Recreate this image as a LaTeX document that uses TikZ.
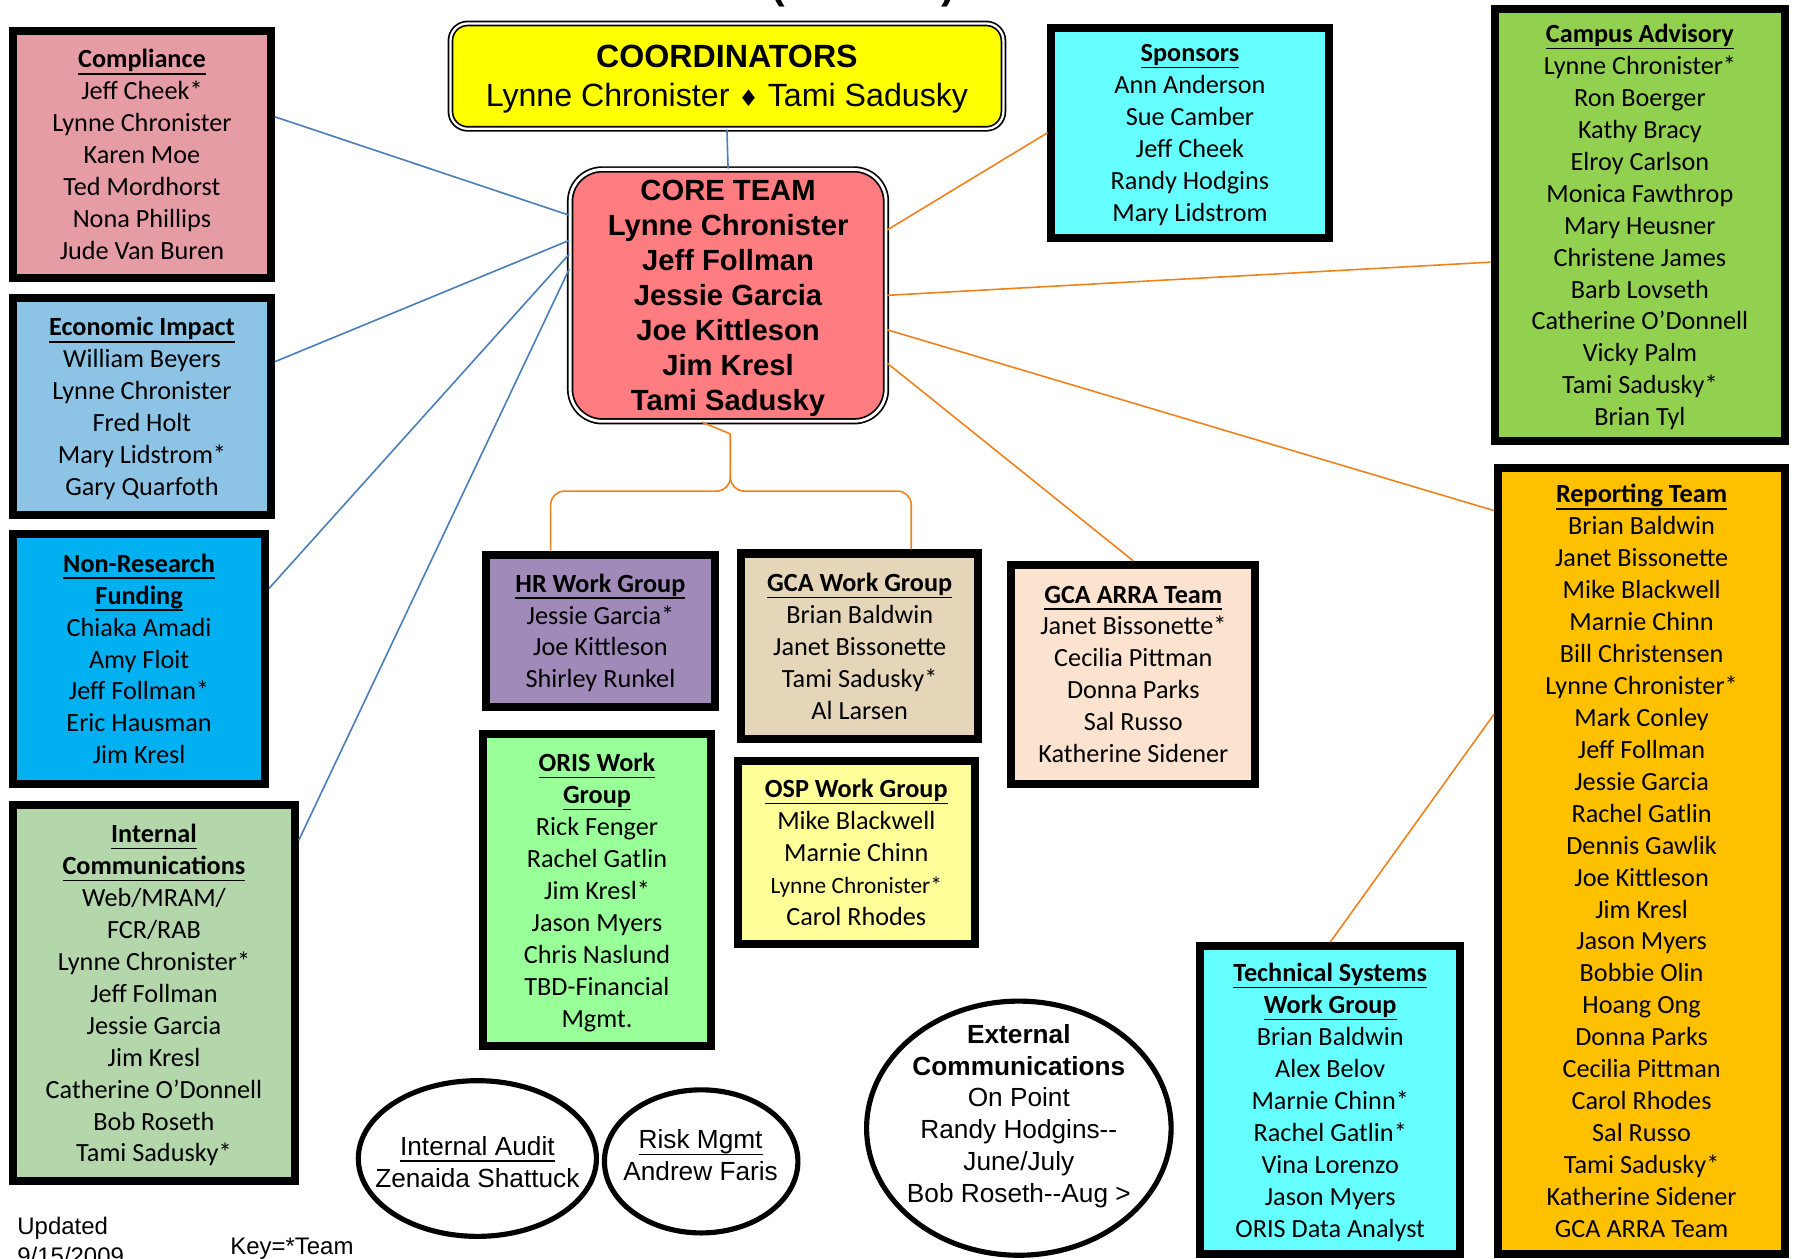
\documentclass[tikz,border=0pt]{standalone}
\usepackage{fontspec}
\setmainfont{Carlito}
\newfontfamily\arialfont{Liberation Sans}
\newfontfamily\symbolfont{DejaVu Sans}
\newcommand{\uln}[1]{\setbox0\hbox{#1}\leavevmode\rlap{\rule[-0.26em]{\wd0}{1.5pt}}\box0}
\definecolor{compliancepink}{HTML}{E59CA4}
\definecolor{impactblue}{HTML}{8DC3E5}
\definecolor{fundingblue}{HTML}{00B0F0}
\definecolor{commsgreen}{HTML}{B3D6AB}
\definecolor{hrpurple}{HTML}{A08ABA}
\definecolor{gcatan}{HTML}{E5D6B9}
\definecolor{arrapeach}{HTML}{FCE3CF}
\definecolor{orisgreen}{HTML}{99FF99}
\definecolor{ospyellow}{HTML}{FFFF99}
\definecolor{techcyan}{HTML}{66FFFF}
\definecolor{reportgold}{HTML}{FFC000}
\definecolor{campusgreen}{HTML}{92D050}
\definecolor{corepink}{HTML}{FF7C80}
\definecolor{coordyellow}{HTML}{FFFF00}
\definecolor{blueline}{HTML}{4A7EBB}
\definecolor{orangeline}{HTML}{F0821E}
\begin{document}
\begin{tikzpicture}[x=1bp, y=-1bp,
  group/.style={draw=black, line width=7bp, rectangle, inner sep=0pt, align=center,
    font=\fontsize{23}{28}\selectfont, text depth=0pt},
  corebox/.style={draw=black, double=white, line width=1.5bp, double distance=2.5bp,
    rounded corners=28bp, fill=corepink, inner sep=0pt, align=center,
    minimum width=276bp, minimum height=220bp, text depth=0pt,
    font=\arialfont\bfseries\fontsize{25.6}{30.8}\selectfont},
  coordbox/.style={draw=black, double=white, line width=1.5bp, double distance=2bp,
    rounded corners=15bp, fill=coordyellow, inner sep=0pt, align=center,
    minimum width=483bp, minimum height=92bp, text depth=0pt,
    font=\arialfont\fontsize{28.2}{34}\selectfont},
  ring/.style={draw=black, line width=4.5bp, fill=white},
  ringtext/.style={align=center, inner sep=0pt, font=\arialfont\fontsize{23}{28}\selectfont},
  note/.style={inner sep=0pt, align=left, font=\arialfont\fontsize{21}{26}\selectfont},
  blueconn/.style={draw=blueline, line width=1.4bp},
  orangeconn/.style={draw=orangeline, line width=1.4bp},
]
\path[use as bounding box, fill=white] (0,0) rectangle (1568,1099);

\node [anchor=base, inner sep=0pt, font=\arialfont\bfseries\fontsize{36}{36}\selectfont] (title) at (754,-1) {(\hspace{136bp})};

\node [coordbox] (coord) at (635,66.5) {\textbf{COORDINATORS}\\Lynne Chronister {\symbolfont\fontsize{20}{20}\selectfont ♦} Tami Sadusky};
\node [corebox] (core) at (636,258) {CORE TEAM\\Lynne Chronister\\Jeff Follman\\Jessie Garcia\\Joe Kittleson\\Jim Kresl\\Tami Sadusky};

\node [group, fill=compliancepink, minimum width=225bp, minimum height=215bp] (compliance) at (124,135)
  {\textbf{\uln{Compliance}}\\Jeff Cheek*\\Lynne Chronister\\Karen Moe\\Ted Mordhorst\\Nona Phillips\\Jude Van Buren};
\node [group, fill=impactblue, minimum width=225bp, minimum height=189bp] (impact) at (124,355)
  {\textbf{\uln{Economic Impact}}\\William Beyers\\Lynne Chronister\\Fred Holt\\Mary Lidstrom*\\Gary Quarfoth};
\node [group, fill=fundingblue, minimum width=220bp, minimum height=218bp] (funding) at (121.5,575.5)
  {\textbf{\uln{Non-Research}}\\\textbf{\uln{Funding}}\\Chiaka Amadi\\Amy Floit\\Jeff Follman*\\Eric Hausman\\Jim Kresl};
\node [group, fill=commsgreen, minimum width=246bp, minimum height=328bp] (comms) at (134.5,867.5)
  {\textbf{\uln{Internal}}\\\textbf{\uln{Communications}}\\Web/MRAM/\\FCR/RAB\\Lynne Chronister*\\Jeff Follman\\Jessie Garcia\\Jim Kresl\\Catherine O’Donnell\\Bob Roseth\\Tami Sadusky*};

\node [group, fill=hrpurple, minimum width=200bp, minimum height=133bp] (hrgroup) at (524.5,551)
  {\textbf{\uln{HR Work Group}}\\Jessie Garcia*\\Joe Kittleson\\Shirley Runkel};
\node [group, fill=gcatan, minimum width=207bp, minimum height=162bp] (gcawork) at (751,564.5)
  {\textbf{\uln{GCA Work Group}}\\Brian Baldwin\\Janet Bissonette\\Tami Sadusky*\\Al Larsen};
\node [group, fill=arrapeach, minimum width=213bp, minimum height=191bp] (gcaarra) at (990,589)
  {\textbf{\uln{GCA ARRA Team}}\\Janet Bissonette*\\Cecilia Pittman\\Donna Parks\\Sal Russo\\Katherine Sidener};
\node [group, fill=orisgreen, minimum width=200bp, minimum height=272bp] (oris) at (521.5,777.5)
  {\textbf{\uln{ORIS Work}}\\\textbf{\uln{Group}}\\Rick Fenger\\Rachel Gatlin\\Jim Kresl*\\Jason Myers\\Chris Naslund\\TBD-Financial\\Mgmt.};
\node [group, fill=ospyellow, minimum width=207bp, minimum height=160bp] (osp) at (748,744.5)
  {\textbf{\uln{OSP Work Group}}\\Mike Blackwell\\Marnie Chinn\\{\fontsize{20.5}{26}\selectfont Lynne Chronister*}\\Carol Rhodes};
\node [group, fill=techcyan, minimum width=227bp, minimum height=269bp] (techsys) at (1162,961)
  {\textbf{\uln{Technical Systems}}\\\textbf{\uln{Work Group}}\\Brian Baldwin\\Alex Belov\\Marnie Chinn*\\Rachel Gatlin*\\Vina Lorenzo\\Jason Myers\\ORIS Data Analyst};

\node [group, fill=techcyan, minimum width=242bp, minimum height=183bp] (sponsors) at (1039.5,116)
  {\textbf{\uln{Sponsors}}\\Ann Anderson\\Sue Camber\\Jeff Cheek\\Randy Hodgins\\Mary Lidstrom};
\node [group, fill=campusgreen, minimum width=254bp, minimum height=378bp] (campus) at (1432.5,196.5)
  {\textbf{\uln{Campus Advisory}}\\Lynne Chronister*\\Ron Boerger\\Kathy Bracy\\Elroy Carlson\\Monica Fawthrop\\Mary Heusner\\Christene James\\Barb Lovseth\\Catherine O’Donnell\\Vicky Palm\\Tami Sadusky*\\Brian Tyl};
\node [group, fill=reportgold, minimum width=251bp, minimum height=687bp] (reporting) at (1434,752)
  {\textbf{\uln{Reporting Team}}\\Brian Baldwin\\Janet Bissonette\\Mike Blackwell\\Marnie Chinn\\Bill Christensen\\Lynne Chronister*\\Mark Conley\\Jeff Follman\\Jessie Garcia\\Rachel Gatlin\\Dennis Gawlik\\Joe Kittleson\\Jim Kresl\\Jason Myers\\Bobbie Olin\\Hoang Ong\\Donna Parks\\Cecilia Pittman\\Carol Rhodes\\Sal Russo\\Tami Sadusky*\\Katherine Sidener\\GCA ARRA Team};

\draw [ring] (417,1012) ellipse [x radius=104bp, y radius=68bp];
\draw [ring] (612.5,1014.5) ellipse [x radius=84.5bp, y radius=62.5bp];
\draw [ring] (890,985.5) ellipse [x radius=133bp, y radius=111bp];
\node [ringtext] (audit) at (417,1015) {\uln{Internal Audit}\\Zenaida Shattuck};
\node [ringtext] (risk) at (612,1009) {\uln{Risk Mgmt}\\Andrew Faris};
\node [ringtext] (extcomm) at (890,975) {\textbf{External}\\\textbf{Communications}\\On Point\\Randy Hodgins-{}-\\June/July\\Bob Roseth-{}-Aug >};

\node [note, anchor=north west] (updated) at (15,1063) {Updated\\9/15/2009};
\node [note, anchor=base west] (key) at (201,1096) {Key=*Team};

\draw [blueconn] (coord.south) -- (core.north);
\draw [blueconn] (compliance.east |- 0,102) -- (core.west |- 0,188);
\draw [blueconn] (impact.east |- 0,316) -- (core.west |- 0,210);
\draw [blueconn] (funding.east |- 0,514) -- (core.west |- 0,222);
\draw [blueconn] (comms.east |- 0,734) -- (core.west |- 0,235);

\draw [orangeconn] (core.east |- 0,201) -- (sponsors.west |- 0,116);
\draw [orangeconn] (core.east |- 0,258) -- (campus.west |- 0,229);
\draw [orangeconn] (core.east |- 0,288) -- (reporting.west |- 0,446);
\draw [orangeconn] (core.east |- 0,317) -- (gcaarra.north);
\draw [orangeconn] (techsys.north) -- (reporting.west |- 0,624);

\coordinate (brace) at (638,379);
\draw [orangeconn, rounded corners=12bp] (hrgroup.north -| 481,0) |- (638,429) -- (brace);
\draw [orangeconn, rounded corners=12bp] (gcawork.north -| 796,0) |- (638,429) -- (brace);
\draw [orangeconn] (brace) -- (core.south -| 613,0);
\end{tikzpicture}
\end{document}
